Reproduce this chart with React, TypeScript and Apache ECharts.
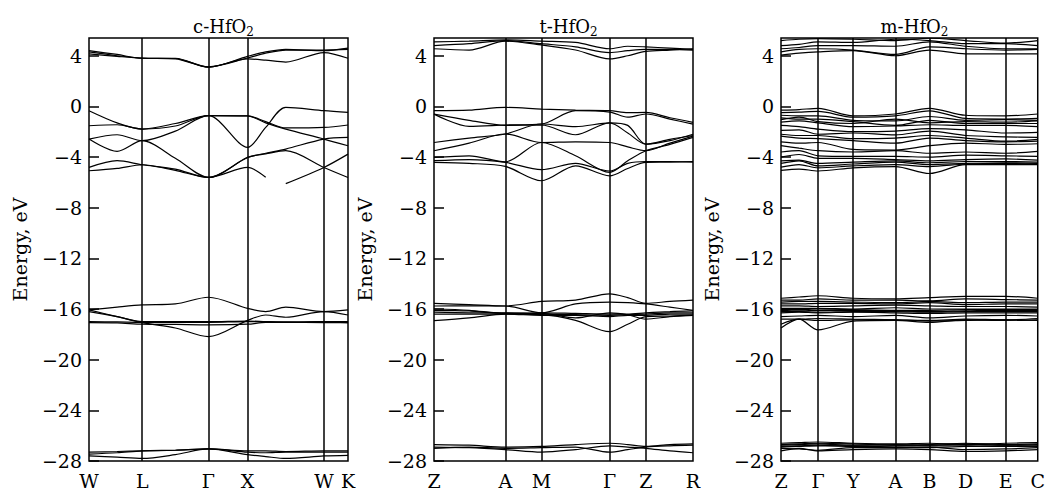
import React, { useEffect, useRef } from "react";
import * as echarts from "echarts";

const FONT = "DejaVu Serif";

// ---------- c-HfO2 ----------
const kC = [0, 28, 53, 86, 119, 158, 176, 196, 234, 258];
const symNamesC = ["W", "L", "Γ", "X", "W", "K"];
const symKC = [0, 53, 119, 158, 234, 258];
const condC = [
  [4.4, 4.1, 3.8, 3.8, 3.1, 3.95, 4.3, 4.5, 4.4, 4.6],
  [4.15, 3.95, 3.8, 3.75, 3.1, 3.75, 3.65, 3.5, 4.25, 3.8],
  [4.3, 4.0, 3.82, 3.78, 3.12, 3.82, 4.2, 4.45, 4.45, 4.5],
];
const valC = [
  [-0.34, -1.3, -1.79, -1.55, -0.73, -0.75, -1.2, -1.7, -1.66, -1.47],
  [-1.53, -1.45, -1.79, -1.35, -0.73, -3.24, -1.66, -0.08, -0.34, -0.47],
  [-2.58, -2.24, -2.71, -1.95, -0.73, -0.75, -1.3, -1.8, -2.58, -3.11],
  [-2.58, -3.55, -2.71, -4.1, -5.61, -4.03, -3.7, -3.37, -2.58, -2.45],
  [-4.82, -4.29, -4.61, -4.95, -5.61, -4.03, -3.75, -3.5, -4.82, -5.61],
  [-5.08, -4.9, -4.61, -5.05, -5.61, -4.82, -5.6, null, null, null],
  [null, null, null, null, null, null, null, -6.1, -4.82, -3.77],
];
const semiC = [
  [-16.07, -15.85, -15.68, -15.6, -15.07, -15.95, -16.2, -15.85, -16.2, -16.07],
  [-16.07, -16.6, -17.08, -17.5, -18.18, -16.9, -16.47, -16.65, -16.2, -16.47],
  [-17.0, -17.02, -17.05, -17.05, -17.05, -17.0, -17.0, -17.02, -17.0, -17.0],
  [-17.08, -17.1, -17.2, -17.22, -17.25, -17.2, -17.05, -17.05, -17.08, -17.05],
  [-16.2, -16.6, -17.0, -17.0, -17.0, -16.95, -17.0, -17.05, -17.0, -17.1],
];
const deepC = [
  [-27.3, -27.25, -27.2, -27.15, -27.05, -27.3, -27.35, -27.3, -27.3, -27.3],
  [-27.6, -27.7, -27.8, -27.5, -27.05, -27.5, -27.65, -27.8, -27.6, -27.55],
  [-27.45, -27.35, -27.2, -27.15, -27.05, -27.2, -27.2, -27.25, -27.2, -27.2],
];

// ---------- t-HfO2 ----------
const kT = [0, 35, 71, 107, 141, 175, 193, 211, 235, 258];
const symNamesT = ["Z", "A", "M", "Γ", "Z", "R"];
const symKT = [0, 71, 107, 175, 211, 258];
const condT = [
  [5.1, 5.15, 5.25, 5.15, 5.05, 4.55, 4.75, 4.7, 4.6, 4.5],
  [4.8, 4.95, 5.2, 4.95, 4.7, 4.25, 4.4, 4.5, 4.5, 4.45],
  [4.55, 4.45, 5.15, 4.85, 4.45, 3.75, 4.0, 4.35, 4.45, 4.55],
];
const valT = [
  [-0.34, -0.3, -0.08, -0.21, -0.3, -0.34, -0.5, -0.47, -0.9, -1.26],
  [-0.61, -1.58, -1.47, -1.39, -0.34, -0.45, -0.85, -0.6, -1.0, -1.4],
  [-0.61, -1.1, -1.5, -1.47, -2.24, -1.3, -1.5, -2.98, -2.6, -2.3],
  [-2.85, -2.5, -2.18, -1.39, -1.6, -1.3, -2.1, -2.98, -2.7, -2.2],
  [-3.5, -2.9, -2.18, -2.85, -2.8, -2.85, -3.2, -3.5, -2.9, -2.35],
  [-4.03, -3.9, -4.37, -2.85, -3.9, -5.21, -4.3, -3.5, -3.0, -2.45],
  [-4.42, -4.5, -4.74, -5.87, -4.69, -5.48, -4.9, -4.42, -4.4, -4.35],
  [-4.29, -4.2, -4.42, -5.0, -4.5, -5.1, -4.5, -4.35, -4.35, -4.4],
];
const semiT = [
  [-15.55, -15.65, -15.76, -15.4, -15.3, -14.8, -15.1, -15.55, -15.4, -15.3],
  [-15.76, -15.75, -15.76, -16.3, -15.6, -15.45, -15.5, -15.6, -15.85, -16.1],
  [-16.1, -16.15, -16.34, -16.3, -16.35, -16.4, -16.4, -16.3, -16.2, -16.15],
  [-16.4, -16.4, -16.4, -16.5, -16.5, -16.6, -16.5, -16.5, -16.4, -16.4],
  [-16.92, -16.7, -16.4, -16.45, -16.9, -17.79, -17.2, -16.6, -16.55, -16.5],
  [-16.0, -16.1, -16.35, -16.35, -16.7, -16.3, -16.45, -16.8, -16.6, -16.5],
  [-16.25, -16.3, -16.3, -16.4, -16.45, -16.5, -16.45, -16.4, -16.3, -16.3],
];
const deepT = [
  [-26.7, -26.75, -26.9, -26.85, -26.7, -26.6, -26.7, -26.85, -26.7, -26.65],
  [-26.9, -26.95, -27.1, -27.3, -27.1, -26.8, -26.9, -27.0, -27.2, -27.35],
  [-27.0, -26.9, -27.0, -26.95, -26.9, -27.3, -27.1, -26.9, -26.8, -26.75],
];

// ---------- m-HfO2 ----------
const kM = [0, 18, 37, 72, 114, 148, 184, 224, 256];
const symNamesM = ["Z", "Γ", "Y", "A", "B", "D", "E", "C"];
const symKM = [0, 37, 72, 114, 148, 184, 224, 256];
const condM = [
  [5.2, 5.3, 5.35, 5.3, 5.2, 5.38, 5.2, 5.0, 5.2],
  [4.8, 4.9, 5.1, 5.05, 5.3, 5.2, 4.95, 4.95, 4.8],
  [4.55, 4.65, 4.8, 4.8, 4.75, 5.1, 4.75, 4.55, 4.55],
  [4.3, 4.5, 4.55, 4.45, 4.1, 4.7, 4.55, 4.45, 4.5],
  [4.05, 4.2, 4.3, 4.4, 4.0, 4.45, 4.15, 4.15, 4.15],
];
const valM = [
  [-0.3, -0.25, -0.15, -0.75, -0.6, -0.15, -0.7, -0.75, -0.6],
  [-0.5, -0.45, -0.4, -0.85, -0.75, -0.35, -0.95, -1.0, -0.95],
  [-0.7, -0.75, -0.75, -1.1, -1.15, -0.8, -1.1, -1.05, -1.1],
  [-0.9, -1.0, -1.0, -1.2, -1.5, -1.1, -1.35, -1.35, -1.35],
  [-1.05, -0.85, -1.2, -1.35, -1.0, -1.3, -1.2, -1.25, -1.15],
  [-1.25, -1.15, -1.3, -1.6, -1.55, -1.45, -1.5, -1.5, -1.6],
  [-1.5, -1.6, -1.8, -2.0, -1.95, -1.75, -1.85, -2.1, -2.05],
  [-1.9, -1.85, -2.2, -2.1, -2.25, -1.95, -2.3, -2.4, -2.45],
  [-2.2, -2.3, -2.3, -2.55, -2.5, -2.3, -2.5, -2.75, -2.6],
  [-2.35, -2.5, -2.55, -2.7, -2.9, -2.5, -2.7, -2.8, -2.75],
  [-2.8, -2.9, -2.85, -3.4, -3.45, -3.1, -2.9, -3.0, -2.95],
  [-3.1, -3.3, -3.5, -3.6, -3.5, -3.7, -3.6, -3.7, -3.55],
  [-3.6, -3.5, -3.9, -3.95, -3.95, -4.0, -3.85, -3.9, -3.95],
  [-4.0, -3.8, -4.1, -4.1, -4.2, -4.3, -4.2, -4.15, -4.25],
  [-4.3, -4.25, -4.5, -4.4, -4.3, -4.45, -4.35, -4.35, -4.4],
  [-4.5, -4.3, -4.7, -4.55, -4.4, -4.6, -4.5, -4.45, -4.5],
  [-4.8, -4.6, -4.85, -4.7, -4.6, -4.75, -4.55, -4.5, -4.55],
  [-5.05, -4.95, -5.1, -4.85, -4.75, -5.3, -4.6, -4.6, -4.6],
];
const semiM = [
  [-15.15, -15.05, -14.95, -15.15, -15.2, -15.1, -15.0, -15.0, -15.15],
  [-15.3, -15.3, -15.2, -15.3, -15.3, -15.35, -15.2, -15.25, -15.3],
  [-15.45, -15.4, -15.4, -15.45, -15.5, -15.4, -15.5, -15.45, -15.45],
  [-15.6, -15.6, -15.55, -15.55, -15.6, -15.5, -15.65, -15.6, -15.6],
  [-15.75, -15.75, -15.8, -15.75, -15.7, -15.75, -15.8, -15.8, -15.85],
  [-15.95, -15.95, -15.95, -16.0, -15.9, -16.0, -16.0, -16.0, -16.0],
  [-16.05, -16.05, -16.0, -16.05, -16.1, -16.1, -16.05, -16.05, -16.05],
  [-16.1, -16.15, -16.1, -16.1, -16.15, -16.2, -16.15, -16.1, -16.1],
  [-16.2, -16.2, -16.25, -16.2, -16.2, -16.25, -16.2, -16.2, -16.2],
  [-16.3, -16.25, -16.3, -16.25, -16.3, -16.35, -16.3, -16.3, -16.3],
  [-16.6, -16.55, -16.5, -16.6, -16.5, -16.7, -16.55, -16.5, -16.55],
  [-16.8, -16.8, -16.75, -16.8, -16.85, -16.9, -16.8, -16.85, -16.75],
  [-17.5, -16.8, -17.65, -16.95, -16.9, -17.05, -16.85, -16.9, -16.85],
  [-17.2, -16.8, -16.9, -16.85, -16.85, -16.95, -16.9, -16.85, -16.9],
];
const deepM = [
  [-26.6, -26.55, -26.5, -26.6, -26.65, -26.6, -26.7, -26.6, -26.55],
  [-26.7, -26.65, -26.6, -26.65, -26.75, -26.7, -26.6, -26.7, -26.65],
  [-26.75, -26.7, -26.65, -26.75, -26.7, -26.75, -26.65, -26.75, -26.7],
  [-26.85, -26.8, -26.75, -26.85, -26.8, -26.8, -26.8, -26.85, -26.8],
  [-26.9, -26.85, -26.8, -26.8, -26.9, -26.95, -26.85, -26.8, -26.85],
  [-27.0, -27.05, -27.15, -26.95, -26.95, -26.9, -27.1, -27.05, -26.95],
  [-27.2, -27.0, -27.2, -27.1, -27.05, -27.1, -27.25, -27.2, -27.1],
];

const titleNames = ["c-HfO", "t-HfO", "m-HfO"];
const yTickMin = -28;
const yTickMax = 5.4;
const yTickStep = 4;

type Panel = {
  k: number[];
  symK: number[];
  symNames: string[];
  bands: (number | null)[][];
};

const panels: Panel[] = [
  { k: kC, symK: symKC, symNames: symNamesC, bands: [...condC, ...valC, ...semiC, ...deepC] },
  { k: kT, symK: symKT, symNames: symNamesT, bands: [...condT, ...valT, ...semiT, ...deepT] },
  { k: kM, symK: symKM, symNames: symNamesM, bands: [...condM, ...valM, ...semiM, ...deepM] },
];

const gridBoxes = [
  { left: 89, width: 259 },
  { left: 434, width: 259 },
  { left: 781, width: 257 },
];

export default function App() {
  const ref = useRef<HTMLDivElement>(null);
  useEffect(() => {
    if (!ref.current) return;
    const chart = echarts.init(ref.current, null, { renderer: "svg" });

    const grid = gridBoxes.map((g) => ({
      left: g.left,
      width: g.width,
      top: 38,
      bottom: 34,
      show: true,
      borderColor: "#000",
      borderWidth: 1.5,
      backgroundColor: "transparent",
    }));

    const xAxis = panels.map((p, i) => ({
      gridIndex: i,
      type: "value",
      min: 0,
      max: p.k[p.k.length - 1],
      axisLine: { show: false },
      axisTick: { show: false },
      splitLine: { show: false },
      axisLabel: {
        customValues: p.symK,
        formatter: (v: number) => {
          const idx = p.symK.findIndex((s) => Math.abs(s - v) < 0.01);
          return idx >= 0 ? p.symNames[idx] : "";
        },
        fontFamily: FONT,
        fontSize: 19,
        color: "#000",
        margin: 10,
      },
    }));

    const yAxis = panels.map((_, i) => ({
      gridIndex: i,
      type: "value",
      min: yTickMin,
      max: yTickMax,
      interval: yTickStep,
      name: "Energy, eV",
      nameLocation: "middle",
      nameGap: 60,
      nameRotate: 90,
      nameTextStyle: { fontFamily: FONT, fontSize: 19, color: "#000" },
      axisLine: { show: false },
      axisTick: { show: true, inside: true, length: 10, lineStyle: { color: "#000", width: 1.5 } },
      splitLine: { show: false },
      axisLabel: {
        showMaxLabel: false,
        fontFamily: FONT,
        fontSize: 19,
        color: "#000",
        margin: 7,
        formatter: (v: number) => {
          if (Math.abs(v % yTickStep) > 1e-6) return "";
          return v < 0 ? "\u2212" + Math.abs(v) : String(v);
        },
      },
    }));

    const series: any[] = [];
    panels.forEach((p, i) => {
      p.bands.forEach((band, bi) => {
        const s: any = {
          type: "line",
          xAxisIndex: i,
          yAxisIndex: i,
          data: p.k.map((kv, j) => [kv, band[j] == null ? null : band[j]]),
          showSymbol: false,
          symbol: "none",
          smooth: 0.3,
          connectNulls: false,
          silent: true,
          lineStyle: { color: "#000", width: 1.2 },
        };
        if (bi === 0) {
          s.markLine = {
            silent: true,
            symbol: ["none", "none"],
            label: { show: false },
            lineStyle: { color: "#000", width: 1.5, type: "solid" },
            data: p.symK.slice(1, -1).map((v) => ({ xAxis: v })),
          };
        }
        series.push(s);
      });
    });

    const title = titleNames.map((t, i) => ({
      text: "{a|" + t + "}{s|2}",
      left: gridBoxes[i].left + gridBoxes[i].width / 2,
      top: 9,
      textAlign: "center",
      textStyle: {
        fontWeight: "normal",
        rich: {
          a: { fontFamily: FONT, fontSize: 18, fontWeight: "normal", color: "#000", lineHeight: 24 },
          s: { fontFamily: FONT, fontSize: 12, fontWeight: "normal", color: "#000", lineHeight: 24, verticalAlign: "bottom" },
        },
      },
    }));

    chart.setOption({
      animation: false,
      backgroundColor: "#fff",
      title,
      grid,
      xAxis,
      yAxis,
      series,
    } as any);
    return () => chart.dispose();
  }, []);
  return (
    <div
      ref={ref}
      style={{ position: "absolute", left: 0, top: 0, width: 1048, height: 495 }}
    />
  );
}
